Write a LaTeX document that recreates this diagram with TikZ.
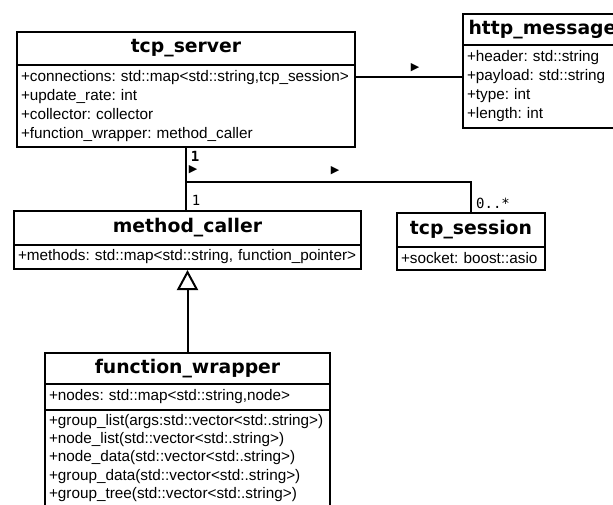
\documentclass[tikz,border=0pt]{standalone}
\usepackage{fontspec}
\setmainfont{Liberation Sans}
\newfontfamily\titlefont{DejaVu Sans}
\newfontfamily\monofont{DejaVu Sans Mono}
\newfontfamily\symfont{DejaVu Sans}
\usetikzlibrary{arrows.meta,calc}
\frenchspacing
\tikzset{
  comp/.style={draw, line width=2pt, anchor=north west, inner xsep=4pt, inner ysep=0pt,
    align=left, font=\fontsize{15.3}{19}\selectfont},
  ttl/.style={draw, line width=2pt, anchor=north west, inner sep=0pt, align=center,
    font=\titlefont\bfseries\fontsize{18.8}{22}\selectfont},
  conn/.style={line width=2pt},
  lbl/.style={inner sep=0pt, font=\monofont\fontsize{14}{16}\selectfont},
  dirmark/.style={inner sep=0pt, font=\symfont\fontsize{11}{12}\selectfont}
}
\begin{document}
\begin{tikzpicture}[x=1pt,y=-1pt]
\useasboundingbox (0,0) rectangle (613,504);
\clip (0,0) rectangle (613,504);
% tcp_server
\node[ttl, minimum width=338pt, minimum height=33pt] (tst) at (16,31) {tcp\_server};
\node[comp, text width=330pt, minimum height=82pt] (tsa) at (16,64)
  {\mbox{+connections: std::map<std::string,tcp\_session>}\\+update\_rate: int\\+collector: collector\\+function\_wrapper: method\_caller};
% http_message
\node[ttl, minimum width=159pt, minimum height=31pt] (hmt) at (462,13) {http\_message};
\node[comp, text width=151pt, minimum height=83pt] (hma) at (462,44)
  {+header: std::string\\+payload: std::string\\+type: int\\+length: int};
% method_caller
\node[ttl, minimum width=347pt, minimum height=34pt] (mct) at (13,210) {method\_caller};
\node[comp, text width=339pt, minimum height=24pt] (mca) at (13,244)
  {\mbox{+methods: std::map<std::string, function\_pointer>}};
% tcp_session
\node[ttl, minimum width=148pt, minimum height=34pt] (tsst) at (396,212) {tcp\_session};
\node[comp, text width=140pt, minimum height=23pt] (tssa) at (396,246)
  {+socket: boost::asio};
% function_wrapper
\node[ttl, minimum width=285pt, minimum height=31pt] (fwt) at (44,352) {function\_wrapper};
\node[comp, text width=277pt, minimum height=26pt] (fwa) at (44,383)
  {+nodes: std::map<std::string,node>};
\node[comp, text width=277pt, minimum height=96pt, font=\fontsize{15.3}{18.3}\selectfont] (fwm) at (44,409)
  {\mbox{+group\_list(args:std::vector<std:.string>)}\\+node\_list(std::vector<std:.string>)\\+node\_data(std::vector<std:.string>)\\+group\_data(std::vector<std:.string>)\\+group\_tree(std::vector<std:.string>)};
% connectors
\draw[conn] ([yshift=-13pt]tsa.north east) -- ([yshift=-13pt]tsa.north east -| hma.west);
\node[dirmark] (d0) at (415,68) {▶};
\draw[conn] (tsa.south) -- ++(0,34) -| (tsst.north);
\draw[conn] (tsa.south) -- (tsa.south |- mct.north);
\draw[conn,-{Triangle[open,width=21pt,length=20pt]}] (fwt.north) -- (mca.south);
% labels
\node[lbl, font=\monofont\bfseries\fontsize{14}{16}\selectfont] (l1) at (195,156) {1};
\node[dirmark] (d1) at (193,170) {▶};
\node[dirmark] (d2) at (335,171) {▶};
\node[lbl] (l2) at (196,200) {1};
\node[lbl] (l3) at (493,203) {0..*};
\end{tikzpicture}
\end{document}
